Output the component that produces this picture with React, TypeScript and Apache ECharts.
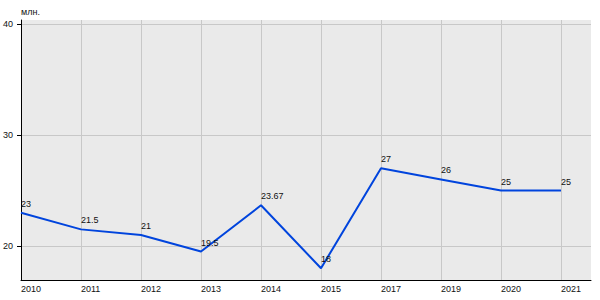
import React, { useEffect, useRef } from "react";
import * as echarts from "echarts";

const categories = ["2010", "2011", "2012", "2013", "2014", "2015", "2017", "2019", "2020", "2021"];
const values = [23, 21.5, 21, 19.5, 23.67, 18, 27, 26, 25, 25];
const yTicks = [20, 30, 40];
const unitLabel = "млн.";

export default function App() {
  const ref = useRef<HTMLDivElement>(null);
  useEffect(() => {
    if (!ref.current) return;
    const chart = echarts.init(ref.current, null, { renderer: "svg" });
    const idx = categories.map((_, i) => i);
    chart.setOption({
      animation: false,
      grid: {
        left: 20,
        right: 9,
        top: 20,
        bottom: 20,
        show: true,
        backgroundColor: "#eaeaea",
        borderWidth: 0,
      },
      xAxis: {
        type: "value",
        min: 0,
        max: categories.length - 0.5,
        axisLine: { show: true, onZero: false, lineStyle: { color: "#000", width: 1 } },
        axisTick: { show: false, customValues: idx },
        axisLabel: {
          customValues: idx,
          formatter: (v: number) => categories[Math.round(v)] ?? "",
          align: "left",
          margin: 4,
          fontFamily: "Liberation Sans, Arial, sans-serif",
          fontSize: 9,
          color: "#111",
        },
        splitLine: { show: true, lineStyle: { color: "#c8c8c8", width: 1 } },
      },
      yAxis: {
        type: "value",
        min: 16.94,
        max: 40.36,
        name: unitLabel,
        nameLocation: "end",
        nameGap: 4,
        nameTextStyle: {
          align: "left",
          fontFamily: "Liberation Sans, Arial, sans-serif",
          fontSize: 9,
          color: "#111",
        },
        axisLine: { show: true, lineStyle: { color: "#000", width: 1 } },
        axisTick: { show: true, length: 4, customValues: yTicks, lineStyle: { color: "#000" } },
        axisLabel: {
          customValues: yTicks,
          margin: 8,
          fontFamily: "Liberation Sans, Arial, sans-serif",
          fontSize: 9,
          color: "#111",
        },
        splitLine: { show: true, lineStyle: { color: "#c8c8c8", width: 1 } },
      },
      series: [
        {
          type: "line",
          data: values.map((v, i) => [i, v]),
          symbol: "circle",
          symbolSize: 1,
          showSymbol: true,
          itemStyle: { color: "rgba(0,0,0,0)", borderWidth: 0 },
          lineStyle: { color: "#0044dd", width: 2 },
          label: {
            show: true,
            position: "top",
            align: "left",
            distance: 4,
            formatter: (p: any) => String(p.value[1]),
            fontFamily: "Liberation Sans, Arial, sans-serif",
            fontSize: 9,
            color: "#111",
          },
        },
      ],
    });
    return () => chart.dispose();
  }, []);
  return <div ref={ref} style={{ width: 600, height: 300, position: "absolute", left: 0, top: 0 }} />;
}
